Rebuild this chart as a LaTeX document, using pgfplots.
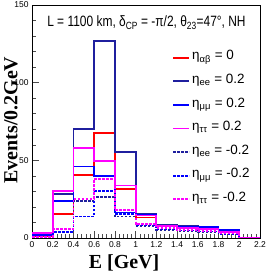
\documentclass[border=0pt]{standalone}
\usepackage{fontspec}
\setmainfont{Liberation Sans}
\newfontfamily\tnr{Liberation Serif}
\usepackage{graphicx}
\usepackage{pgfplots}
\pgfplotsset{compat=1.18}
\definecolor{navy}{rgb}{0.12,0.12,0.62}
\definecolor{mag}{rgb}{1,0,1}
\begin{document}
\begin{tikzpicture}
\begin{axis}[
  scale only axis, width=228bp, height=233bp,
  xmin=0, xmax=2.2, ymin=0, ymax=150,
  xtick={0,0.2,0.4,0.6,0.8,1.0,1.2,1.4,1.6,1.8,2.0,2.2},
  xticklabels={0,0.2,0.4,0.6,0.8,1,1.2,1.4,1.6,1.8,2,2.2},
  ytick={0,50,100,150},
  minor x tick num=4, minor y tick num=4,
  tick align=inside, xtick pos=bottom, ytick pos=left,
  major tick length=7bp, minor tick length=3.5bp,
  tick style={black!70, line width=0.5bp},
  axis line style={line width=0.6bp},
  tick label style={font=\fontsize{8.5}{8.5}\selectfont},
  /pgf/number format/assume math mode=true,
  xlabel={\tnr\bfseries E [GeV]},
  ylabel={\tnr\bfseries Events/0.2GeV},
  label style={font=\fontsize{20}{20}\selectfont},
  xlabel style={at={(axis description cs:0.404,-0.1288)}, anchor=base},
  ylabel style={at={(axis description cs:-0.0636,0.506)}, anchor=base},
  const plot mark left, no marks,
  every axis plot/.append style={line width=1.8bp},
  legend cell align=left,
  legend style={at={(axis description cs:0.615,0.825)}, anchor=north west, draw=none, fill=none,
    font=\fontsize{13.5}{13.5}\selectfont, inner sep=0pt,
    nodes={text height=12bp, text depth=7.6bp}},
  legend image code/.code={\draw[#1, line width=1.8bp] (0bp,0bp) -- (16bp,0bp);},
]
\addplot[red] coordinates {(0,1.5)(0.2,15.6)(0.4,40.3)(0.6,67.7)(0.8,31.6)(1.0,13.2)(1.2,7.4)(1.4,6.5)(1.6,5.6)(1.8,4.3)(2.0,0)(2.2,0)};
\addlegendentry{η\textsubscript{αβ} = 0}
\addplot[navy] coordinates {(0,2)(0.2,28.5)(0.4,70)(0.6,127)(0.8,55.6)(1.0,15.6)(1.2,8.4)(1.4,7.8)(1.6,7.4)(1.8,5.2)(2.0,0)(2.2,0)};
\addlegendentry{η\textsubscript{ee} = 0.2}
\addplot[blue] coordinates {(0,2)(0.2,24)(0.4,46)(0.6,39.8)(0.8,16.4)(1.0,15)(1.2,8)(1.4,7.4)(1.6,7)(1.8,5)(2.0,0)(2.2,0)};
\addlegendentry{η\textsubscript{μμ} = 0.2}
\addplot[mag] coordinates {(0,3)(0.2,30)(0.4,58)(0.6,49.5)(0.8,33.8)(1.0,14.5)(1.2,7.8)(1.4,6.3)(1.6,6)(1.8,4.1)(2.0,0)(2.2,0)};
\addlegendentry{η\textsubscript{ττ} = 0.2}
\addplot[navy, dash pattern=on 2.5bp off 1.5bp] coordinates {(0,0.6)(0.2,4)(0.4,23.6)(0.6,26.2)(0.8,13.8)(1.0,7.8)(1.2,5.2)(1.4,4.5)(1.6,4)(1.8,2.6)(2.0,0)(2.2,0)};
\addlegendentry{η\textsubscript{ee} = -0.2}
\addplot[blue, dash pattern=on 2.5bp off 1.5bp] coordinates {(0,0.5)(0.2,4.1)(0.4,13.8)(0.6,30)(0.8,15.3)(1.0,8.5)(1.2,5.8)(1.4,4.8)(1.6,4.2)(1.8,2.8)(2.0,0)(2.2,0)};
\addlegendentry{η\textsubscript{μμ} = -0.2}
\addplot[mag, dash pattern=on 2.5bp off 1.5bp] coordinates {(0,0.8)(0.2,5.8)(0.4,25.3)(0.6,38)(0.8,18.2)(1.0,9.1)(1.2,6.2)(1.4,5)(1.6,4.3)(1.8,3)(2.0,0)(2.2,0)};
\addlegendentry{η\textsubscript{ττ} = -0.2}
\node[anchor=base, font=\fontsize{15}{15}\selectfont] at (axis description cs:0.502,0.907)
  {\scalebox{0.8}[1]{L = 1100 km, δ\textsubscript{CP} = -π/2, θ\textsubscript{23}=47°, NH}};
\end{axis}
\pgfresetboundingbox
\path (current axis.south west) ++(-32bp,-35bp) rectangle ++(266bp,273bp);
\end{tikzpicture}
\end{document}
